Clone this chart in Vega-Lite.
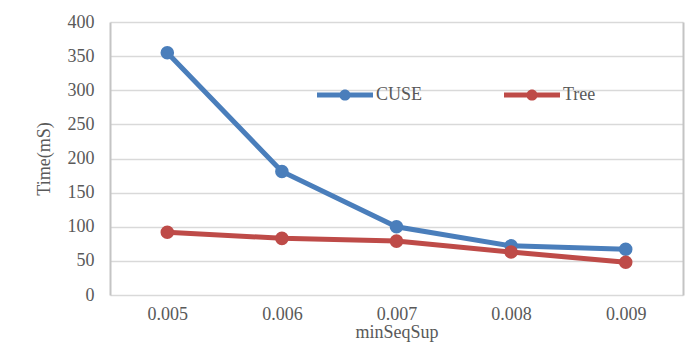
{
  "$schema": "https://vega.github.io/schema/vega-lite/v6.json",
  "width": 573,
  "height": 273,
  "autosize": {"type": "none"},
  "padding": {"left": 110, "top": 22, "right": 9, "bottom": 48},
  "background": "white",
  "config": {
    "font": "Liberation Serif, serif",
    "view": {"stroke": null},
    "axis": {
      "labelFont": "Liberation Serif, serif",
      "titleFont": "Liberation Serif, serif",
      "labelFontSize": 18,
      "titleFontSize": 18,
      "labelColor": "#595959",
      "titleColor": "#595959",
      "titleFontWeight": "normal",
      "domain": false,
      "ticks": false
    }
  },
  "data": {
    "values": [
      {"minSeqSup": "0.005", "series": "CUSE", "time": 355},
      {"minSeqSup": "0.006", "series": "CUSE", "time": 181},
      {"minSeqSup": "0.007", "series": "CUSE", "time": 100},
      {"minSeqSup": "0.008", "series": "CUSE", "time": 72},
      {"minSeqSup": "0.009", "series": "CUSE", "time": 67},
      {"minSeqSup": "0.005", "series": "Tree", "time": 92},
      {"minSeqSup": "0.006", "series": "Tree", "time": 83},
      {"minSeqSup": "0.007", "series": "Tree", "time": 79},
      {"minSeqSup": "0.008", "series": "Tree", "time": 63},
      {"minSeqSup": "0.009", "series": "Tree", "time": 48}
    ]
  },
  "encoding": {
    "x": {
      "field": "minSeqSup",
      "type": "ordinal",
      "scale": {"paddingInner": 0, "paddingOuter": 0},
      "axis": {
        "title": "minSeqSup",
        "labelAngle": 0,
        "labelPadding": 10,
        "titlePadding": 0,
        "grid": false
      }
    },
    "color": {
      "field": "series",
      "type": "nominal",
      "scale": {"domain": ["CUSE", "Tree"], "range": ["#4a7ebb", "#be4b48"]},
      "legend": {
        "title": null,
        "orient": "none",
        "direction": "horizontal",
        "legendX": 207,
        "legendY": 45,
        "symbolType": "M -1 -0.09 L 1 -0.09 L 1 0.09 L -1 0.09 Z M -0.2 0 A 0.2 0.2 0 1 1 0.2 0 A 0.2 0.2 0 1 1 -0.2 0 Z",
        "symbolSize": 3136,
        "symbolStrokeWidth": 0,
        "labelFont": "Liberation Serif, serif",
        "labelFontSize": 18,
        "labelColor": "#595959",
        "labelOffset": 3,
        "columnPadding": 81,
        "encode": {
          "symbols": {
            "update": {
              "fill": {"scale": "color", "field": "value"},
              "stroke": {"value": "transparent"},
              "opacity": {"value": 1}
            }
          }
        }
      }
    }
  },
  "layer": [
    {
      "mark": {"type": "line", "strokeWidth": 5},
      "encoding": {
        "y": {
          "field": "time",
          "type": "quantitative",
          "scale": {"domain": [0, 400], "nice": false},
          "axis": {
            "title": "Time(mS)",
            "values": [0, 50, 100, 150, 200, 250, 300, 350, 400],
            "labelPadding": 16,
            "titlePadding": 14,
            "gridColor": "#d9d9d9",
            "gridWidth": 1.5,
            "domain": true,
            "domainColor": "#c4c4c4",
            "domainWidth": 2
          }
        }
      }
    },
    {
      "mark": {"type": "point", "filled": true, "size": 185, "opacity": 1},
      "encoding": {
        "y": {
          "field": "time",
          "type": "quantitative",
          "scale": {"domain": [0, 400], "nice": false},
          "axis": {
            "orient": "right",
            "title": null,
            "labels": false,
            "grid": false,
            "domain": true,
            "domainColor": "#c4c4c4",
            "domainWidth": 2
          }
        }
      }
    }
  ],
  "resolve": {"axis": {"y": "independent"}}
}
